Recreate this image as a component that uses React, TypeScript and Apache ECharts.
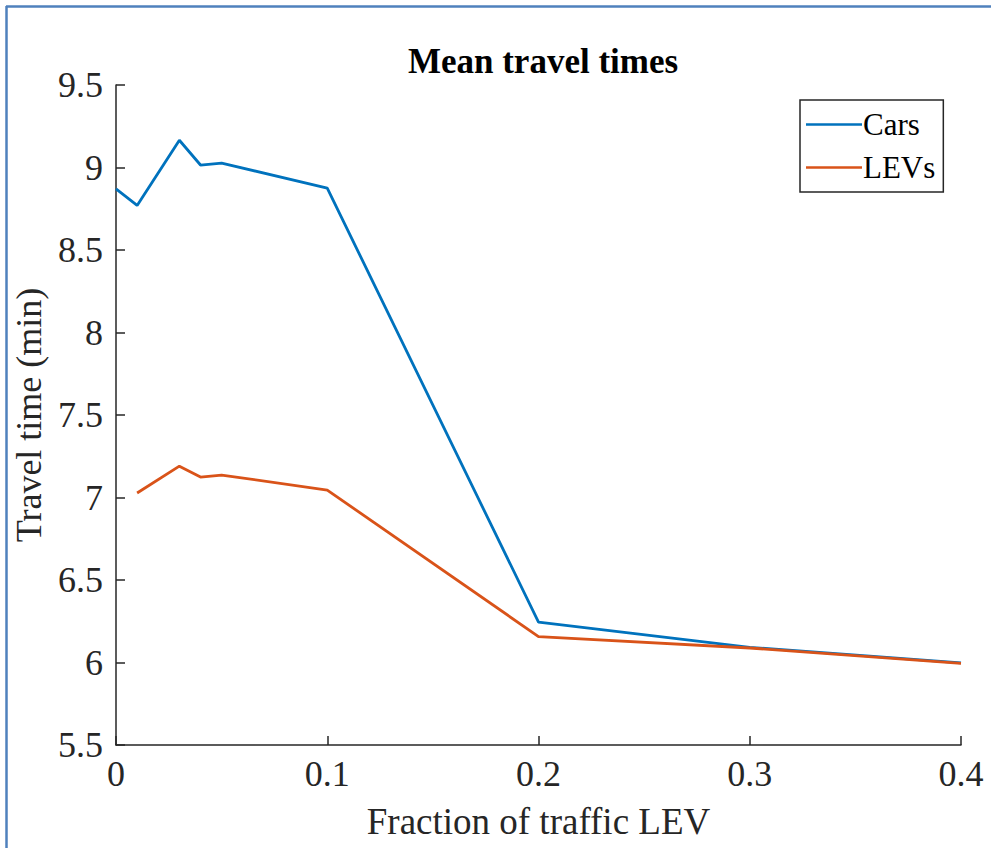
import React, { useEffect, useRef } from "react";
import * as echarts from "echarts";

const xCars = [0, 0.01, 0.03, 0.04, 0.05, 0.1, 0.2, 0.3, 0.4];
const carsValues = [8.87, 8.77, 9.165, 9.015, 9.027, 8.875, 6.245, 6.092, 5.998];
const xLevs = [0.01, 0.03, 0.04, 0.05, 0.1, 0.2, 0.3, 0.4];
const levValues = [7.027, 7.19, 7.124, 7.136, 7.045, 6.157, 6.088, 5.995];
const seriesNames = ["Cars", "LEVs"];
const titleText = "Mean travel times";
const xName = "Fraction of traffic LEV";
const yName = "Travel time (min)";

const FONT = "'Liberation Serif', 'Times New Roman', serif";
const AX = "#262626";

export default function App() {
  const ref = useRef<HTMLDivElement>(null);
  useEffect(() => {
    if (!ref.current) return;
    const chart = echarts.init(ref.current, null, { renderer: "svg" });
    chart.setOption({
      animation: false,
      backgroundColor: "#ffffff",
      title: {
        text: titleText,
        left: 538,
        textAlign: "center",
        top: 39,
        textStyle: { fontFamily: FONT, fontSize: 35, fontWeight: "bold", color: "#000" },
      },
      legend: {
        orient: "vertical",
        left: 800,
        top: 100,
        width: 143,
        padding: [9, 8, 9, 6],
        itemGap: 12,
        itemWidth: 56,
        itemHeight: 2.5,
        icon: "rect",
        borderColor: AX,
        borderWidth: 1.5,
        backgroundColor: "#fff",
        textStyle: { fontFamily: FONT, fontSize: 31, color: "#000", padding: [0, 0, 0, -4] },
        data: seriesNames,
      },
      grid: { left: 116, right: 30, top: 85, bottom: 103 },
      xAxis: {
        type: "value",
        min: 0,
        max: 0.4,
        interval: 0.1,
        name: xName,
        nameLocation: "middle",
        nameGap: 58,
        nameTextStyle: { fontFamily: FONT, fontSize: 37, color: AX },
        axisLine: { show: true, onZero: false, lineStyle: { color: AX, width: 1.5 } },
        axisTick: { show: true, inside: true, length: 9, lineStyle: { color: AX, width: 1.5 } },
        axisLabel: { fontFamily: FONT, fontSize: 36, color: AX, margin: 11 },
        splitLine: { show: false },
      },
      yAxis: {
        type: "value",
        min: 5.5,
        max: 9.5,
        interval: 0.5,
        name: yName,
        nameLocation: "middle",
        nameGap: 62,
        nameTextStyle: { fontFamily: FONT, fontSize: 36, color: AX },
        axisLine: { show: true, onZero: false, lineStyle: { color: AX, width: 1.5 } },
        axisTick: { show: true, inside: true, length: 9, lineStyle: { color: AX, width: 1.5 } },
        axisLabel: { fontFamily: FONT, fontSize: 36, color: AX, margin: 13 },
        splitLine: { show: false },
      },
      series: [
        {
          name: seriesNames[0],
          type: "line",
          symbol: "none",
          data: xCars.map((x, i) => [x, carsValues[i]]),
          lineStyle: { color: "#0072BD", width: 2.8 },
          itemStyle: { color: "#0072BD" },
        },
        {
          name: seriesNames[1],
          type: "line",
          symbol: "none",
          data: xLevs.map((x, i) => [x, levValues[i]]),
          lineStyle: { color: "#D95319", width: 2.8 },
          itemStyle: { color: "#D95319" },
        },
      ],
      graphic: [
        { type: "line", shape: { x1: 6, y1: 6.5, x2: 991, y2: 6.5 }, style: { stroke: "#4F81BD", lineWidth: 2.5 } },
        { type: "line", shape: { x1: 6.5, y1: 6, x2: 6.5, y2: 848 }, style: { stroke: "#4F81BD", lineWidth: 2.5 } },
      ],
    });
    return () => chart.dispose();
  }, []);
  return (
    <div
      ref={ref}
      style={{ position: "fixed", left: 0, top: 0, width: 991, height: 848, background: "#fff" }}
    />
  );
}
